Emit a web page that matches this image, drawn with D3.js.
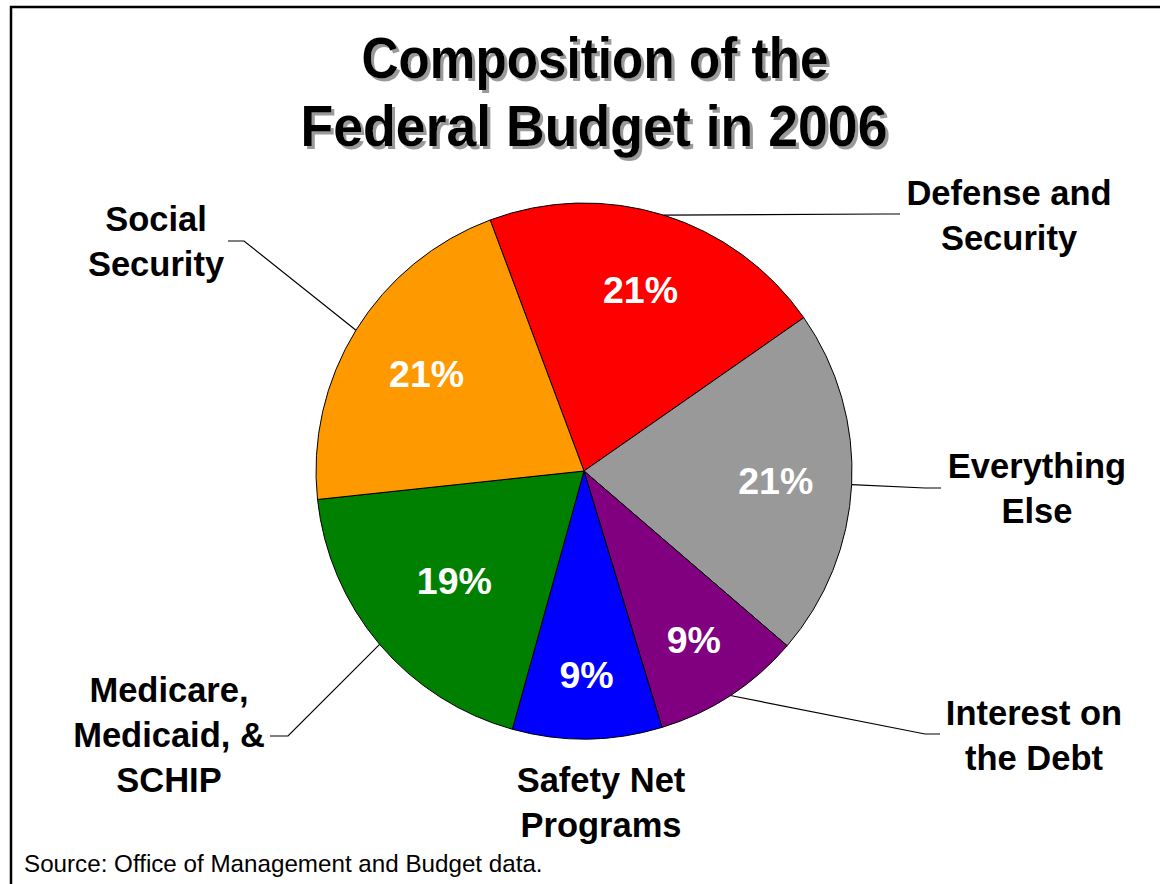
<!DOCTYPE html>
<html>
<head>
<meta charset="utf-8">
<script src="https://cdn.jsdelivr.net/npm/d3@7"></script>
<style>
  html, body { margin: 0; padding: 0; background: #fff; }
  svg { display: block; }
</style>
</head>
<body>
<svg id="chart" width="1160" height="884"></svg>
<script>
// Budget shares for fiscal year 2006, in percent, clockwise from the top
const categories = [
  "Defense and Security",
  "Everything Else",
  "Interest on the Debt",
  "Safety Net Programs",
  "Medicare, Medicaid, & SCHIP",
  "Social Security"
];
const shares = [21, 21, 9, 9, 19, 21];
const sliceColors = ["#FF0000", "#999999", "#800080", "#0000FF", "#008000", "#FF9900"];
const labelLines = [
  ["Defense and", "Security"],
  ["Everything", "Else"],
  ["Interest on", "the Debt"],
  ["Safety Net", "Programs"],
  ["Medicare,", "Medicaid, &", "SCHIP"],
  ["Social", "Security"]
];
const titleLines = ["Composition of the", "Federal Budget in 2006"];
const sourceNote = "Source: Office of Management and Budget data.";

// ---- layout ----
const W = 1160, H = 884;
const cx = 584, cy = 471, R = 268;
const startDeg = -20.5;
const labelFont = "'Liberation Sans', Arial, Helvetica, sans-serif";
const titleFont = "'Liberation Sans Narrow', 'Arial Narrow', 'Liberation Sans', Arial, sans-serif";

// category name callouts: text anchor (centre x, first baseline) and leader elbow
const callout = {
  "Defense and Security":        { x: 1009, y: 205, elbow: [885, 214], end: [900, 214] },
  "Everything Else":             { x: 1037, y: 478, elbow: [925, 488], end: [941, 488] },
  "Interest on the Debt":        { x: 1034, y: 725, elbow: [925, 734], end: [940, 734] },
  "Safety Net Programs":         { x: 601,  y: 792, elbow: null },
  "Medicare, Medicaid, & SCHIP": { x: 169,  y: 702, elbow: [288, 736], end: [270, 736] },
  "Social Security":             { x: 156,  y: 231, elbow: [244, 241], end: [228, 241] }
};
// distance of each percentage label from the pie centre
const pctRadius = {
  "Defense and Security": 190,
  "Everything Else": 192,
  "Interest on the Debt": 201,
  "Safety Net Programs": 204,
  "Medicare, Medicaid, & SCHIP": 170,
  "Social Security": 185
};

const svg = d3.select("#chart");

// drop shadow for the title
const shadow = svg.append("defs").append("filter")
  .attr("id", "titleShadow")
  .attr("x", "-5%").attr("y", "-20%")
  .attr("width", "115%").attr("height", "150%");
shadow.append("feOffset").attr("in", "SourceAlpha").attr("dx", 3).attr("dy", 3).attr("result", "off");
shadow.append("feFlood").attr("flood-color", "#9a9a9a").attr("result", "col");
shadow.append("feComposite").attr("in", "col").attr("in2", "off").attr("operator", "in").attr("result", "sh");
const merge = shadow.append("feMerge");
merge.append("feMergeNode").attr("in", "sh");
merge.append("feMergeNode").attr("in", "SourceGraphic");

// outer frame
svg.append("rect")
  .attr("x", 11).attr("y", 7)
  .attr("width", W + 20).attr("height", H + 20)
  .attr("fill", "#fff")
  .attr("stroke", "#000")
  .attr("stroke-width", 2.5);

// title
const titleBaselines = [78, 146];
const titleWidths = [467, 587];
const titleCenters = [595, 594];
const titleG = svg.append("g").attr("filter", "url(#titleShadow)");
titleLines.forEach((line, i) => {
  titleG.append("text")
    .attr("x", titleCenters[i])
    .attr("y", titleBaselines[i])
    .attr("text-anchor", "middle")
    .attr("font-family", titleFont)
    .attr("font-weight", "bold")
    .attr("font-size", 58)
    .attr("textLength", titleWidths[i])
    .attr("lengthAdjust", "spacingAndGlyphs")
    .attr("fill", "#000")
    .text(line);
});

// pie
const data = categories.map((c, i) => ({ name: c, value: shares[i], color: sliceColors[i], lines: labelLines[i] }));
const start = startDeg * Math.PI / 180;
const pie = d3.pie().sort(null).value(d => d.value)
  .startAngle(start).endAngle(start + 2 * Math.PI);
const arcs = pie(data);
const arc = d3.arc().innerRadius(0).outerRadius(R);

const g = svg.append("g").attr("transform", `translate(${cx},${cy})`);
g.selectAll("path.slice")
  .data(arcs)
  .join("path")
  .attr("class", "slice")
  .attr("d", arc)
  .attr("fill", d => d.data.color)
  .attr("stroke", "#000")
  .attr("stroke-width", 1);

const mid = d => (d.startAngle + d.endAngle) / 2;

// percentage labels
g.selectAll("text.pct")
  .data(arcs)
  .join("text")
  .attr("class", "pct")
  .attr("x", d => pctRadius[d.data.name] * Math.sin(mid(d)))
  .attr("y", d => -pctRadius[d.data.name] * Math.cos(mid(d)))
  .attr("dy", "0.35em")
  .attr("text-anchor", "middle")
  .attr("font-family", labelFont)
  .attr("font-weight", "bold")
  .attr("font-size", 37.5)
  .attr("fill", "#fff")
  .text(d => d3.format("d")(d.data.value) + "%");

// leader lines from the slice rim to each callout
arcs.forEach(d => {
  const c = callout[d.data.name];
  if (!c.elbow) return;
  const a = mid(d);
  const p0 = [cx + R * Math.sin(a), cy - R * Math.cos(a)];
  svg.append("path")
    .attr("d", d3.line()([p0, c.elbow, c.end]))
    .attr("fill", "none")
    .attr("stroke", "#000")
    .attr("stroke-width", 1.2);
});

// category names
arcs.forEach(d => {
  const c = callout[d.data.name];
  const t = svg.append("text")
    .attr("text-anchor", "middle")
    .attr("font-family", labelFont)
    .attr("font-weight", "bold")
    .attr("font-size", 34.5)
    .attr("fill", "#000");
  d.data.lines.forEach((ln, i) => {
    t.append("tspan").attr("x", c.x).attr("y", c.y + i * 45).text(ln);
  });
});

// source note
svg.append("text")
  .attr("x", 24).attr("y", 872)
  .attr("font-family", labelFont)
  .attr("font-size", 24.2)
  .attr("fill", "#000")
  .text(sourceNote);
</script>
</body>
</html>
